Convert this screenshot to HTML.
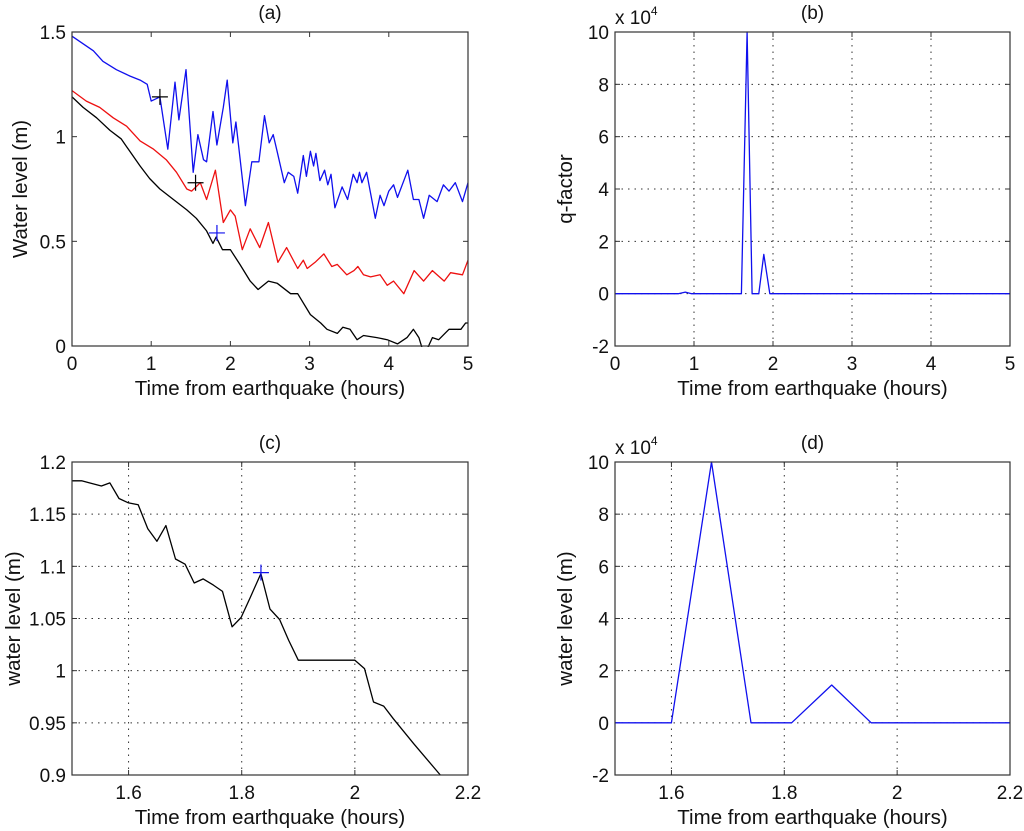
<!DOCTYPE html>
<html><head><meta charset="utf-8">
<style>
html,body{margin:0;padding:0;background:#fff;}
svg{display:block;font-family:"Liberation Sans",Arial,sans-serif;}
</style></head>
<body>
<svg id="fig" width="1024" height="831" viewBox="0 0 1024 831" xmlns="http://www.w3.org/2000/svg"></svg>
<script>
// ---- Panel (a) data ----
const aBlueX=[0,0.27,0.39,0.56,0.73,0.86,0.95,1.0,1.11,1.21,1.30,1.35,1.44,1.53,1.59,1.66,1.70,1.78,1.83,1.91,1.96,2.03,2.07,2.19,2.27,2.36,2.43,2.49,2.54,2.59,2.68,2.73,2.80,2.85,2.92,2.96,3.01,3.05,3.08,3.13,3.19,3.23,3.27,3.32,3.41,3.48,3.55,3.60,3.63,3.66,3.72,3.83,3.89,3.94,4.0,4.06,4.11,4.24,4.31,4.38,4.44,4.51,4.61,4.69,4.76,4.84,4.93,5.0];
const aBlueY=[1.48,1.41,1.36,1.32,1.29,1.27,1.25,1.17,1.19,0.94,1.26,1.08,1.32,0.83,1.01,0.89,0.88,1.12,0.96,1.14,1.27,0.97,1.07,0.67,0.88,0.88,1.10,0.97,1.01,0.93,0.78,0.83,0.81,0.73,0.91,0.81,0.93,0.86,0.92,0.79,0.84,0.77,0.82,0.66,0.76,0.70,0.82,0.78,0.83,0.78,0.83,0.61,0.72,0.67,0.74,0.77,0.71,0.84,0.70,0.70,0.61,0.72,0.69,0.77,0.74,0.78,0.69,0.78];
const aRedX=[0,0.18,0.35,0.52,0.69,0.86,1.03,1.19,1.32,1.45,1.51,1.62,1.70,1.81,1.91,2.0,2.06,2.15,2.25,2.37,2.48,2.6,2.71,2.85,2.92,2.97,3.07,3.18,3.28,3.35,3.47,3.56,3.61,3.68,3.77,3.89,3.98,4.06,4.19,4.32,4.44,4.55,4.70,4.78,4.93,5.0];
const aRedY=[1.22,1.17,1.14,1.09,1.05,0.98,0.94,0.89,0.83,0.75,0.74,0.78,0.70,0.84,0.59,0.65,0.62,0.46,0.56,0.47,0.59,0.40,0.47,0.37,0.41,0.37,0.40,0.44,0.38,0.39,0.34,0.36,0.38,0.34,0.33,0.34,0.29,0.31,0.25,0.36,0.31,0.36,0.31,0.35,0.34,0.41];
const aBlackX=[0,0.14,0.31,0.48,0.62,0.73,0.86,0.98,1.11,1.28,1.45,1.57,1.70,1.78,1.82,1.90,2.0,2.12,2.25,2.35,2.48,2.59,2.76,2.85,3.01,3.14,3.22,3.35,3.42,3.51,3.6,3.68,3.85,3.98,4.11,4.23,4.31,4.38,4.42,4.49,4.55,4.63,4.76,4.91,4.97,5.0];
const aBlackY=[1.19,1.14,1.09,1.03,0.99,0.93,0.86,0.80,0.75,0.70,0.65,0.61,0.55,0.49,0.52,0.46,0.46,0.39,0.31,0.27,0.31,0.30,0.25,0.25,0.15,0.11,0.08,0.06,0.09,0.08,0.03,0.05,0.04,0.03,0.01,0.04,0.08,0.04,-0.01,-0.01,0.04,0.03,0.08,0.08,0.11,0.11];
const aMarkBlackX=[1.11,1.56];
const aMarkBlackY=[1.19,0.78];
const aMarkBlueX=[1.83];
const aMarkBlueY=[0.54];
const aXTicks=[0,1,2,3,4,5];
const aYTicks=[0,0.5,1,1.5];
const aYTickLabels=["0","0.5","1","1.5"];
// ---- Panel (b) data (x 10^4) ----
const bX=[0,0.5,0.8,0.89,0.97,1.2,1.5,1.60,1.672,1.735,1.82,1.883,1.96,2.5,5.0];
const bY=[0,0,0,0.06,0,0,0,0,10,0,0,1.5,0,0,0];
const bXTicks=[0,1,2,3,4,5];
const bYTicks=[-2,0,2,4,6,8,10];
// ---- Panel (c) data ----
const cX=[1.5,1.517,1.531,1.552,1.567,1.583,1.599,1.617,1.634,1.650,1.666,1.683,1.700,1.716,1.732,1.750,1.766,1.783,1.799,1.815,1.834,1.850,1.867,1.883,1.900,2.0,2.017,2.033,2.051,2.068,2.104,2.151];
const cY=[1.182,1.182,1.180,1.177,1.180,1.165,1.161,1.159,1.136,1.124,1.139,1.107,1.102,1.084,1.088,1.082,1.076,1.042,1.051,1.070,1.093,1.059,1.049,1.029,1.010,1.010,1.002,0.970,0.966,0.954,0.930,0.9];
const cMarkX=[1.834];
const cMarkY=[1.094];
const cXTicks=[1.6,1.8,2.0,2.2];
const cXTickLabels=["1.6","1.8","2","2.2"];
const cYTicks=[0.9,0.95,1.0,1.05,1.1,1.15,1.2];
const cYTickLabels=["0.9","0.95","1","1.05","1.1","1.15","1.2"];
// ---- Panel (d) data (x 10^4) ----
const dX=[1.5,1.6,1.671,1.741,1.813,1.884,1.954,2.2];
const dY=[0,0,10,0,0,1.45,0,0];
const dXTicks=[1.6,1.8,2.0,2.2];
const dXTickLabels=["1.6","1.8","2","2.2"];
const dYTicks=[-2,0,2,4,6,8,10];

const NS="http://www.w3.org/2000/svg";
const fig=document.getElementById('fig');
function mk(tag,attrs,parent,text){
  const e=document.createElementNS(NS,tag);
  for(const k in attrs) e.setAttribute(k,attrs[k]);
  if(text!==undefined) e.textContent=text;
  (parent||fig).appendChild(e);
  return e;
}
function panel(o){
  const g=mk('g',{});
  
  
  const sx=v=>o.x0+(v-o.xmin)/(o.xmax-o.xmin)*(o.x1-o.x0);
  const sy=v=>o.y1-(v-o.ymin)/(o.ymax-o.ymin)*(o.y1-o.y0);
  if(o.grid){
    o.xt.forEach(t=>{const x=sx(t); if(x>o.x0+1&&x<o.x1-1){const l=mk('line',{x1:x,x2:x,y1:o.y0,y2:o.y1,stroke:'#333','stroke-width':1,'stroke-dasharray':'1.5,5'},g);}});
    o.yt.forEach(t=>{const y=sy(t); if(y>o.y0+1&&y<o.y1-1){const l=mk('line',{x1:o.x0,x2:o.x1,y1:y,y2:y,stroke:'#333','stroke-width':1,'stroke-dasharray':'1.5,5'},g);}});
  }
  o.xt.forEach((t,i)=>{const x=sx(t);
    mk('line',{x1:x,x2:x,y1:o.y1,y2:o.y1-5,stroke:'#333'},g);
    mk('line',{x1:x,x2:x,y1:o.y0,y2:o.y0+5,stroke:'#333'},g);
    const tx=mk('text',{x:x,y:o.y1+24,'font-size':19,'text-anchor':'middle',fill:'#111'},g,o.xl?o.xl[i]:String(t));
    
    
  });
  o.yt.forEach((t,i)=>{const y=sy(t);
    mk('line',{x1:o.x0,x2:o.x0+5,y1:y,y2:y,stroke:'#333'},g);
    mk('line',{x1:o.x1,x2:o.x1-5,y1:y,y2:y,stroke:'#333'},g);
    const ty=mk('text',{x:o.x0-6,y:y+7,'font-size':19,'text-anchor':'end',fill:'#111'},g,o.yl?o.yl[i]:String(t));
    
    
  });
  const cid='clip'+o.name;
  const cp=mk('clipPath',{id:cid},g);
  mk('rect',{x:o.x0,y:o.y0-1,width:o.x1-o.x0,height:o.y1-o.y0+2},cp);
  o.series.forEach(s=>{
    const pts=s.x.map((v,i)=>sx(v).toFixed(1)+','+sy(s.y[i]).toFixed(1)).join(' ');
    const p=mk('polyline',{points:pts,fill:'none',stroke:s.c,'stroke-width':1.3,'stroke-linejoin':'round','clip-path':'url(#'+cid+')'},g);
    
    
  });
  (o.marks||[]).forEach(m=>{
    m.x.forEach((v,i)=>{const x=sx(v),y=sy(m.y[i]);
      const mg=mk('g',{},g);
      
      
      mk('line',{x1:x-8,x2:x+8,y1:y,y2:y,stroke:m.c,'stroke-width':1.2},mg);
      mk('line',{x1:x,x2:x,y1:y-8,y2:y+8,stroke:m.c,'stroke-width':1.2},mg);
    });
  });
  const fr=mk('rect',{x:o.x0,y:o.y0,width:o.x1-o.x0,height:o.y1-o.y0,fill:'none',stroke:'#333','stroke-width':1.2},g);
  
  
  const tt=mk('text',{x:(o.x0+o.x1)/2,y:o.y0-13,'font-size':19,'text-anchor':'middle',fill:'#111'},g,o.title);
  
  
  const xt=mk('text',{x:(o.x0+o.x1)/2,y:o.y1+49,'font-size':20.5,'text-anchor':'middle',fill:'#111'},g,'Time from earthquake (hours)');
  
  
  const yx=o.ylx, yy=(o.y0+o.y1)/2;
  const yt=mk('text',{x:yx,y:yy,'font-size':20.5,'text-anchor':'middle',fill:'#111',transform:'rotate(-90 '+yx+' '+yy+')'},g,o.ylabel);
  
  
  if(o.exp){
    const ex=mk('text',{x:o.x0,y:o.y0-8,'font-size':19,fill:'#111'},g);
    
    
    ex.appendChild(document.createTextNode('x 10'));
    mk('tspan',{dy:-9,'font-size':12},ex,'4');
  }
}
panel({name:'panel-a',title:'(a)',x0:72,x1:468,y0:32,y1:346,xmin:0,xmax:5,ymin:0,ymax:1.5,xt:aXTicks,yt:aYTicks,yl:aYTickLabels,grid:false,ylabel:'Water level (m)',ylx:27,
  series:[{x:aBlueX,y:aBlueY,c:'#1010ee',n:'blue-series'},{x:aRedX,y:aRedY,c:'#ee1010',n:'red-series'},{x:aBlackX,y:aBlackY,c:'#000',n:'black-series'}],
  marks:[{x:aMarkBlackX,y:aMarkBlackY,c:'#000',n:'black-marker'},{x:aMarkBlueX,y:aMarkBlueY,c:'#1010ee',n:'blue-marker'}]});
panel({name:'panel-b',title:'(b)',x0:615,x1:1010,y0:32,y1:346,xmin:0,xmax:5,ymin:-2,ymax:10,xt:bXTicks,yt:bYTicks,grid:true,ylabel:'q-factor',ylx:572,exp:true,
  series:[{x:bX,y:bY,c:'#1010ee',n:'q-factor-series'}]});
panel({name:'panel-c',title:'(c)',x0:72,x1:468,y0:462,y1:775,xmin:1.5,xmax:2.2,ymin:0.9,ymax:1.2,xt:cXTicks,xl:cXTickLabels,yt:cYTicks,yl:cYTickLabels,grid:true,ylabel:'water level (m)',ylx:20,
  series:[{x:cX,y:cY,c:'#000',n:'water-level-series'}],
  marks:[{x:cMarkX,y:cMarkY,c:'#1010ee',n:'blue-marker'}]});
panel({name:'panel-d',title:'(d)',x0:615,x1:1010,y0:462,y1:775,xmin:1.5,xmax:2.2,ymin:-2,ymax:10,xt:dXTicks,xl:dXTickLabels,yt:dYTicks,grid:true,ylabel:'water level (m)',ylx:572,exp:true,
  series:[{x:dX,y:dY,c:'#1010ee',n:'q-factor-zoom-series'}]});
</script>
</body></html>
